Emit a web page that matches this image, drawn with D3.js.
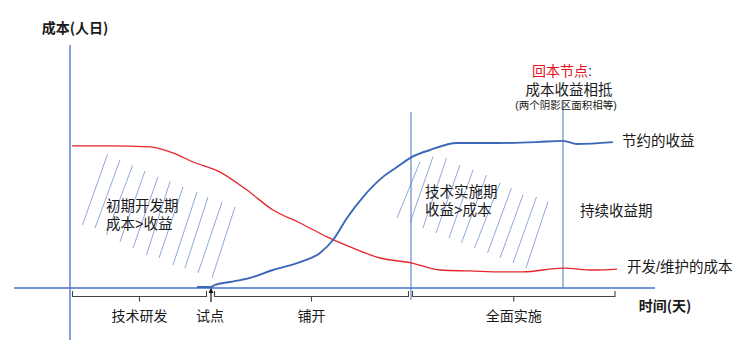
<!DOCTYPE html>
<html><head><meta charset="utf-8">
<script src="https://cdn.jsdelivr.net/npm/d3@7"></script>
<style>
html,body{margin:0;padding:0;background:#fff;}
svg text{font-family:"Noto Sans CJK SC","Noto Sans",sans-serif;fill:#1a1a1a;}
svg text.tight{font-family:"Liberation Sans","Noto Sans CJK SC",sans-serif;}
</style></head>
<body>
<div id="chart"></div>
<script>
// ---- data (time units, cost units) ----
const costCurve = [[0.4,59.2],[8,59.2],[16,58.8],[20.6,56.3],[24.6,52.5],[30,48.3],[35.4,40.8],[40.6,32.5],[46,27.1],[51.4,21.3],[56,17.1],[62,12.5],[68.4,10.4],[74,7.5],[80,7.1],[86.6,6.7],[90.6,6.7],[98.6,8.3],[104.6,7.5],[109.4,7.9]];
const benefitCurve = [[25.4,0.4],[28.2,0.4],[29,1.3],[32,2.5],[36,4.2],[40.6,7.5],[46,10.8],[50,14.6],[52.6,20],[55.4,29.2],[58.6,37.9],[62.6,46.3],[65.4,50.4],[68.4,54.6],[72,57.5],[77.4,60.4],[85.4,60.4],[93.4,60.8],[98.6,61.3],[101.4,60],[108.6,60.8]];
const phaseNames = ["技术研发","铺开","全面实施"];
const phaseStart = [0.5,28.9,68.5];
const phaseEnd = [27.3,67.7,109];
const pilotName = "试点";
const pilotTime = 28.2;
const markerTimes = [68.2,98.6];
const markerTops = [73.3,77.9];
const markerBottoms = [-5,0];
// hatch strokes: [tBottom, vBottom, tTop, vTop]
const hatchEarly = [[2.5,26.3,7.5,55.7],[5,25,10,53.3],[7.3,22.1,12.5,51],[10,19.3,15,48.8],[12.6,16.7,17.6,46.3],[15.3,13.8,20,44.3],[17.8,12.5,22.6,42.1],[20.6,9.6,25.4,40],[23,8.3,27.6,37.9],[25.6,6.3,30.4,35.8],[28.4,4.2,33,33.8]];
const hatchImpl = [[65.4,29.2,70,52.6],[68,27.1,72.6,54.7],[70.6,25,75.3,54.2],[73.2,22.9,78,51.3],[75.8,20.8,80.6,49.2],[78.3,18.8,83.3,47.1],[80.9,16.7,86,43.8],[83.5,14.6,88.3,41.7],[86,12.5,90.6,38.8],[88.6,10.4,93.3,38],[91.2,8.3,95.6,36]];

const W = 742, H = 358;
const svg = d3.select("#chart").append("svg").attr("width",W).attr("height",H);
const x = d3.scaleLinear().domain([0,120]).range([70,670]);
const y = d3.scaleLinear().domain([0,100]).range([288,48]);
const axisBlue = "#4472C4";

// axes
svg.append("line").attr("x1",x(-11.2)).attr("x2",x(117)).attr("y1",y(0)).attr("y2",y(0))
  .attr("stroke",axisBlue).attr("stroke-width",1.3);
svg.append("line").attr("x1",x(0)).attr("x2",x(0)).attr("y1",y(101.3)).attr("y2",y(-21.7))
  .attr("stroke",axisBlue).attr("stroke-width",1.3);

// marker verticals
markerTimes.forEach((t,i)=>{
  svg.append("line").attr("x1",x(t)).attr("x2",x(t)).attr("y1",y(markerTops[i])).attr("y2",y(markerBottoms[i]))
    .attr("stroke",axisBlue).attr("stroke-width",1);
});

// hatching
[hatchEarly,hatchImpl].forEach(h=>{
  svg.append("g").selectAll("line").data(h).join("line")
    .attr("x1",d=>x(d[0])).attr("y1",d=>y(d[1])).attr("x2",d=>x(d[2])).attr("y2",d=>y(d[3]))
    .attr("stroke","#5a80c8").attr("stroke-width",0.8).attr("opacity",0.85);
});

// curves
const line = d3.line().x(d=>x(d[0])).y(d=>y(d[1])).curve(d3.curveMonotoneX);
svg.append("path").attr("d",line(costCurve)).attr("fill","none").attr("stroke","#e3262b").attr("stroke-width",1.3);
svg.append("path").attr("d",line(benefitCurve)).attr("fill","none").attr("stroke","#3b67b8").attr("stroke-width",1.9);

// brackets
const by0 = y(0)+3, by1 = y(0)+8.5, by2 = y(0)+13.5;
phaseNames.forEach((n,i)=>{
  const a = x(phaseStart[i]), b = x(phaseEnd[i]), c = (a+b)/2;
  svg.append("path").attr("d",`M${a},${by0}V${by1}H${b}V${by0}M${c},${by1}V${by2}`)
    .attr("fill","none").attr("stroke","#444").attr("stroke-width",1.1);
  svg.append("text").attr("x",c).attr("y",321).attr("text-anchor","middle").attr("font-size",14).text(n);
});
// pilot arrow
const px = x(pilotTime);
svg.append("path").attr("d",`M${px},${y(0)+14}V${y(0)+1}`).attr("stroke","#111").attr("stroke-width",1.2);
svg.append("path").attr("d",`M${px-2.5},${y(0)+5}L${px},${y(0)}L${px+2.5},${y(0)+5}Z`).attr("fill","#111");
svg.append("text").attr("x",px-1).attr("y",321).attr("text-anchor","middle").attr("font-size",14).text(pilotName);

// axis titles
svg.append("text").attr("x",75).attr("y",33).attr("text-anchor","middle").attr("font-size",14).attr("font-weight","bold").text("成本(人日)");
svg.append("text").attr("x",665).attr("y",311).attr("text-anchor","middle").attr("font-size",14).attr("font-weight","bold").text("时间(天)");

// region labels
function ml(xc,yb,lines,size){
  lines.forEach((l,i)=>svg.append("text").attr("class","tight").attr("x",xc).attr("y",yb+i*18).attr("font-size",size).text(l));
}
ml(106,211,["初期开发期","成本>收益"],14.5);
ml(425,197,["技术实施期","收益>成本"],14.5);
ml(580,216,["持续收益期"],14.5);
ml(622,146,["节约的收益"],14.5);
ml(627,272,["开发/维护的成本"],14.5);

// break-even annotation
const t1 = svg.append("text").attr("class","tight").attr("x",562).attr("y",76).attr("text-anchor","middle").attr("font-size",14);
t1.append("tspan").style("fill","#e8101a").text("回本节点");
t1.append("tspan").text(":");
svg.append("text").attr("class","tight").attr("x",569).attr("y",95).attr("text-anchor","middle").attr("font-size",14.5).text("成本收益相抵");
svg.append("text").attr("class","tight").attr("x",566).attr("y",109).attr("text-anchor","middle").attr("font-size",10.5).text("(两个阴影区面积相等)");
</script>
</body></html>
